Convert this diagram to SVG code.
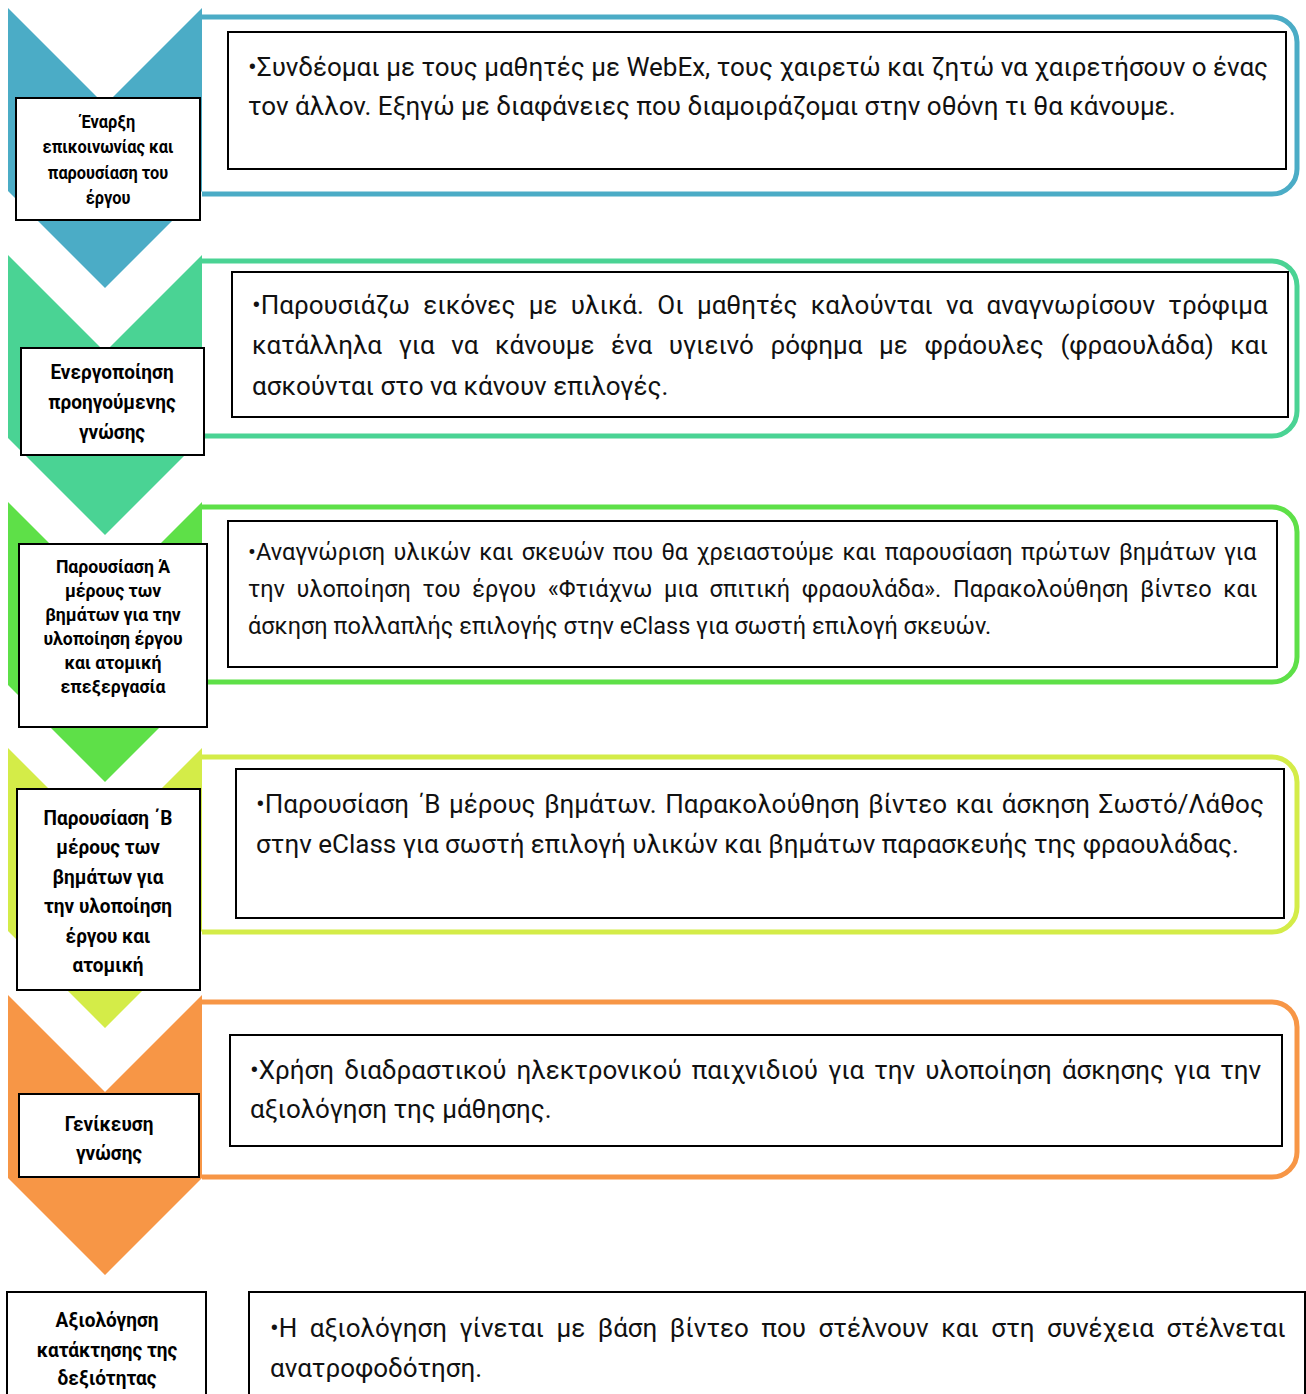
<svg xmlns="http://www.w3.org/2000/svg" width="1306" height="1394" viewBox="0 0 1306 1394">
<style>
.frame{fill:none;stroke-width:5}
.box{fill:#fff;stroke:#000;stroke-width:2}
.lab{font-family:Roboto,"Noto Sans",sans-serif;font-weight:bold;fill:#000;text-anchor:middle}
.body{font-family:Roboto,"Noto Sans",sans-serif;font-size:26px;fill:#111}
.small{font-size:23.5px}
</style>
<rect width="1306" height="1394" fill="#fff"/>
<g id="step1">
<path class="frame" stroke="#4BACC6" d="M202,17 H1272 A25,25 0 0 1 1297,42 V169 A25,25 0 0 1 1272,194 H202"/>
<path fill="#4BACC6" d="M8,8 L105,105 L202,8 L202,191 L105,288 L8,191 Z"/>
<rect class="box" x="228" y="32" width="1058" height="137"/>
<text class="body"><tspan x="248" y="76">•Συνδέομαι με τους μαθητές με WebEx, τους χαιρετώ και ζητώ να χαιρετήσουν ο ένας</tspan><tspan x="248" y="115">τον άλλον. Εξηγώ με διαφάνειες που διαμοιράζομαι στην οθόνη τι θα κάνουμε.</tspan></text>
<rect class="box" x="16" y="98" width="184" height="122"/>
<text class="lab" font-size="18" transform="translate(108 0) scale(0.91 1)"><tspan x="0" y="128">Έναρξη</tspan><tspan x="0" y="153">επικοινωνίας και</tspan><tspan x="0" y="179">παρουσίαση του</tspan><tspan x="0" y="204">έργου</tspan></text>
</g>
<g id="step2">
<path class="frame" stroke="#4AD394" d="M202,261 H1272 A25,25 0 0 1 1297,286 V411 A25,25 0 0 1 1272,436 H202"/>
<path fill="#4AD394" d="M8,255 L105,352 L202,255 L202,438 L105,535 L8,438 Z"/>
<rect class="box" x="232" y="272" width="1056" height="145"/>
<text class="body"><tspan x="252" y="314" word-spacing="6.9">•Παρουσιάζω εικόνες με υλικά. Οι μαθητές καλούνται να αναγνωρίσουν τρόφιμα</tspan><tspan x="252" y="354" word-spacing="10.2">κατάλληλα για να κάνουμε ένα υγιεινό ρόφημα με φράουλες (φραουλάδα) και</tspan><tspan x="252" y="395">ασκούνται στο να κάνουν επιλογές.</tspan></text>
<rect class="box" x="21" y="348" width="183" height="107"/>
<text class="lab" font-size="20" transform="translate(112 0) scale(0.95 1)"><tspan x="0" y="379">Ενεργοποίηση</tspan><tspan x="0" y="409">προηγούμενης</tspan><tspan x="0" y="439">γνώσης</tspan></text>
</g>
<g id="step3">
<path class="frame" stroke="#5EE048" d="M202,507 H1272 A25,25 0 0 1 1297,532 V657 A25,25 0 0 1 1272,682 H202"/>
<path fill="#5EE048" d="M8,502 L105,599 L202,502 L202,685 L105,782 L8,685 Z"/>
<rect class="box" x="228" y="521" width="1049" height="146"/>
<text class="body small"><tspan x="248" y="560" word-spacing="2.6">•Αναγνώριση υλικών και σκευών που θα χρειαστούμε και παρουσίαση πρώτων βημάτων για</tspan><tspan x="248" y="597" word-spacing="5.8">την υλοποίηση του έργου «Φτιάχνω μια σπιτική φραουλάδα». Παρακολούθηση βίντεο και</tspan><tspan x="248" y="634">άσκηση πολλαπλής επιλογής στην eClass για σωστή επιλογή σκευών.</tspan></text>
<rect class="box" x="19" y="544" width="188" height="183"/>
<text class="lab" font-size="19" transform="translate(113 0) scale(0.93 1)"><tspan x="0" y="573">Παρουσίαση Ά</tspan><tspan x="0" y="597">μέρους των</tspan><tspan x="0" y="621">βημάτων για την</tspan><tspan x="0" y="645">υλοποίηση έργου</tspan><tspan x="0" y="669">και ατομική</tspan><tspan x="0" y="693">επεξεργασία</tspan></text>
</g>
<g id="step4">
<path class="frame" stroke="#D4EC48" d="M202,757 H1272 A25,25 0 0 1 1297,782 V907 A25,25 0 0 1 1272,932 H202"/>
<path fill="#D4EC48" d="M8,748 L105,845 L202,748 L202,931 L105,1028 L8,931 Z"/>
<rect class="box" x="236" y="769" width="1048" height="149"/>
<text class="body"><tspan x="256" y="813" word-spacing="2.1">•Παρουσίαση ΄Β μέρους βημάτων. Παρακολούθηση βίντεο και άσκηση Σωστό/Λάθος</tspan><tspan x="256" y="853">στην eClass για σωστή επιλογή υλικών και βημάτων παρασκευής της φραουλάδας.</tspan></text>
<rect class="box" x="17" y="789" width="183" height="201"/>
<text class="lab" font-size="20" transform="translate(108 0) scale(0.95 1)"><tspan x="0" y="825">Παρουσίαση ΄Β</tspan><tspan x="0" y="854">μέρους των</tspan><tspan x="0" y="884">βημάτων για</tspan><tspan x="0" y="913">την υλοποίηση</tspan><tspan x="0" y="943">έργου και</tspan><tspan x="0" y="972">ατομική</tspan></text>
</g>
<g id="step5">
<path class="frame" stroke="#F79646" d="M202,1002 H1272 A25,25 0 0 1 1297,1027 V1152 A25,25 0 0 1 1272,1177 H202"/>
<path fill="#F79646" d="M8,995 L105,1092 L202,995 L202,1178 L105,1275 L8,1178 Z"/>
<rect class="box" x="230" y="1035" width="1052" height="111"/>
<text class="body"><tspan x="250" y="1079" word-spacing="3.7">•Χρήση διαδραστικού ηλεκτρονικού παιχνιδιού για την υλοποίηση άσκησης για την</tspan><tspan x="250" y="1118">αξιολόγηση της μάθησης.</tspan></text>
<rect class="box" x="19" y="1094" width="180" height="83"/>
<text class="lab" font-size="20" transform="translate(109 0) scale(0.95 1)"><tspan x="0" y="1131">Γενίκευση</tspan><tspan x="0" y="1160">γνώσης</tspan></text>
</g>
<g id="step6">
<rect class="box" x="249" y="1292" width="1056" height="110"/>
<text class="body"><tspan x="270" y="1337" word-spacing="6.1">•Η αξιολόγηση γίνεται με βάση βίντεο που στέλνουν και στη συνέχεια στέλνεται</tspan><tspan x="270" y="1377">ανατροφοδότηση.</tspan></text>
<rect class="box" x="7" y="1292" width="199" height="110"/>
<text class="lab" font-size="20" transform="translate(107 0) scale(0.95 1)"><tspan x="0" y="1327">Αξιολόγηση</tspan><tspan x="0" y="1357">κατάκτησης της</tspan><tspan x="0" y="1385">δεξιότητας</tspan></text>
</g>
<g id="connectors"/>
</svg>
